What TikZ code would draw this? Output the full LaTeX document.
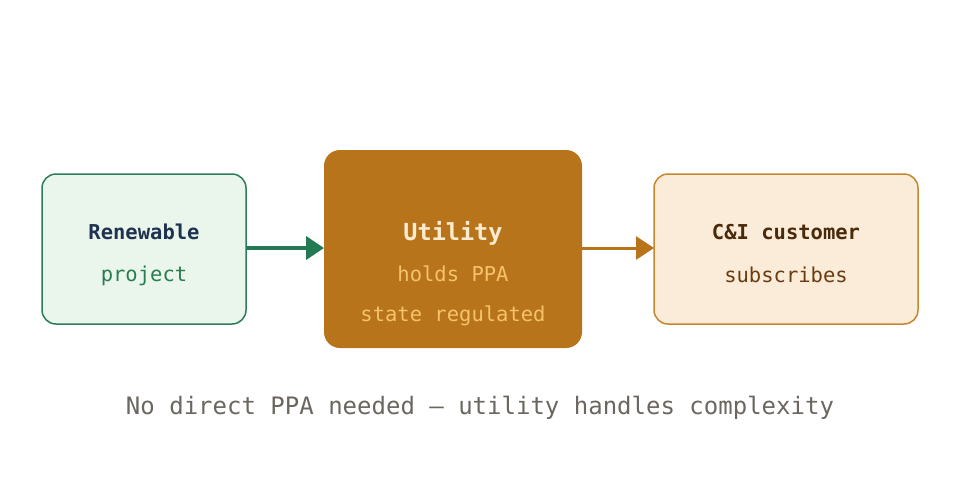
\documentclass[tikz,border=0pt]{standalone}
\usepackage{fontspec}
\setmonofont{DejaVu Sans Mono}
\usetikzlibrary{arrows.meta}
\definecolor{gfill}{HTML}{EAF5EC}
\definecolor{gline}{HTML}{2E7D5A}
\definecolor{garrow}{HTML}{237A52}
\definecolor{navy}{HTML}{1F3350}
\definecolor{gtext}{HTML}{2A7D50}
\definecolor{ofill}{HTML}{B8741A}
\definecolor{cream}{HTML}{FBEBD0}
\definecolor{otext}{HTML}{F5C26B}
\definecolor{pfill}{HTML}{FAECD9}
\definecolor{pline}{HTML}{C8862F}
\definecolor{brownd}{HTML}{4A2A0A}
\definecolor{brownm}{HTML}{6B3A10}
\definecolor{captc}{HTML}{6B6760}
\tikzset{
  txt/.style={font=\ttfamily\fontsize{20.5}{24}\selectfont, inner sep=0pt, anchor=base},
  big/.style={font=\ttfamily\bfseries\fontsize{23.5}{28}\selectfont, inner sep=0pt, anchor=base},
  conn/.style={line width=4pt, -{Triangle[length=18pt,width=23pt]}},
}
\begin{document}
\begin{tikzpicture}[x=1pt,y=-1pt]
\useasboundingbox (0,0) rectangle (960,480);
\fill[white] (0,0) rectangle (960,480);
% boxes
\draw[gline, fill=gfill, line width=1.5pt, rounded corners=14pt] (42,174) rectangle (246,324);
\coordinate (b1) at (246,248);
\fill[ofill, rounded corners=16pt] (324,150) rectangle (582,348);
\coordinate (b2l) at (324,248);
\coordinate (b2r) at (582,248);
\draw[pline, fill=pfill, line width=1.5pt, rounded corners=14pt] (654,174) rectangle (918,324);
\coordinate (b3) at (654,248);
% texts
\node[txt, font=\ttfamily\bfseries\fontsize{20.5}{24}\selectfont, text=navy] (t1a) at (144,239) {Renewable};
\node[txt, text=gtext] (t1b) at (144,281) {project};
\node[big, text=cream] (t2a) at (453,240) {Utility};
\node[txt, text=otext] (t2b) at (453,281) {holds PPA};
\node[txt, text=otext] (t2c) at (453,321) {state regulated};
\node[txt, font=\ttfamily\bfseries\fontsize{20.5}{24}\selectfont, text=brownd] (t3a) at (786,239) {C\&I customer};
\node[txt, text=brownm] (t3b) at (786,282) {subscribes};
\node[font=\ttfamily\fontsize{24}{28}\selectfont, inner sep=0pt, anchor=base, text=captc] (cap) at (480,414) {No direct PPA needed — utility handles complexity};
% connectors
\draw[conn, garrow] (b1) -- (b2l);
\draw[conn, ofill, line width=3pt, -{Triangle[length=18pt,width=23pt]}] (b2r) -- (b3);
\end{tikzpicture}
\end{document}
